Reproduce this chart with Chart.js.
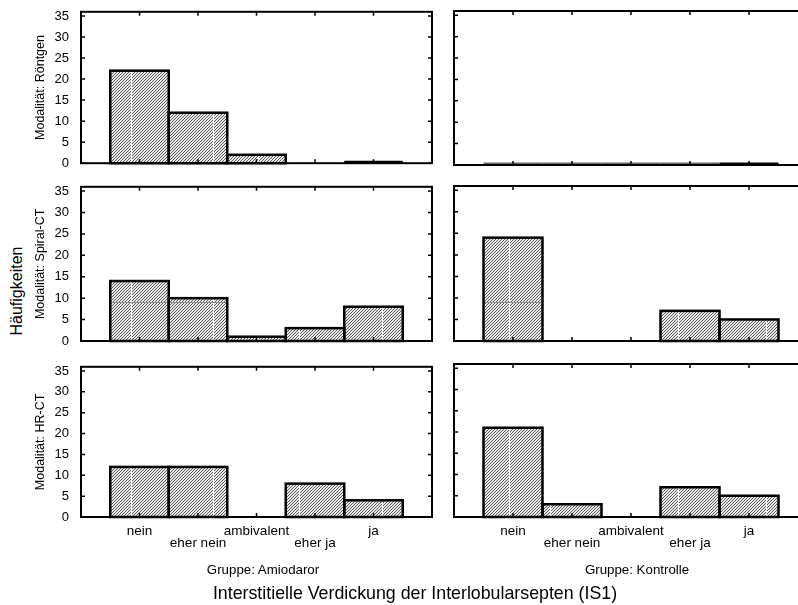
<!DOCTYPE html>
<html>
<head>
<meta charset="utf-8">
<script src="https://cdn.jsdelivr.net/npm/chart.js@4.4.0/dist/chart.umd.min.js"></script>
<style>
  html, body { margin: 0; padding: 0; background: #fff; }
  body { position: relative; width: 798px; height: 605px; overflow: hidden;
         font-family: "Liberation Sans", Arial, sans-serif; color: #000; }
  canvas { position: absolute; }
  .label { position: absolute; white-space: nowrap; transform: translateX(-50%); }
  #yTitle { left: 17px; top: 291px; font-size: 16px; transform: translate(-50%, -50%) rotate(-90deg); }
  #xTitle { top: 583px; left: 415px; font-size: 17.8px; line-height: 20px; }
  .group { top: 562px; font-size: 13.3px; line-height: 16px; }
</style>
</head>
<body>
<canvas id="r1a"></canvas><canvas id="r1k"></canvas>
<canvas id="r2a"></canvas><canvas id="r2k"></canvas>
<canvas id="r3a"></canvas><canvas id="r3k"></canvas>
<div class="label" id="yTitle">Häufigkeiten</div>
<div class="label group" id="g0" style="left:263px"></div>
<div class="label group" id="g1" style="left:637px"></div>
<div class="label" id="xTitle">Interstitielle Verdickung der Interlobularsepten (IS1)</div>
<script>
// answer categories on the x axis
const categories = ['nein', 'eher nein', 'ambivalent', 'eher ja', 'ja'];
const modalities = ['Modalität: Röntgen', 'Modalität: Spiral-CT', 'Modalität: HR-CT'];
const groups = ['Gruppe: Amiodaror', 'Gruppe: Kontrolle'];

// counts per category
const roentgenAmiodaron = [22, 12, 2, 0, 0];
const roentgenKontrolle = [0, 0, 0, 0, 0];
const spiralAmiodaron = [14, 10, 1, 3, 8];
const spiralKontrolle = [24, 0, 0, 7, 5];
const hrctAmiodaron = [12, 12, 0, 8, 4];
const hrctKontrolle = [21, 3, 0, 7, 5];

const yMax = 36;
const yStep = 5;

Chart.defaults.font.family = '"Liberation Sans", Arial, sans-serif';
Chart.defaults.color = '#000';

groups.forEach((g, i) => { document.getElementById('g' + i).textContent = g; });

function hatch(ctx) {
  const c = document.createElement('canvas');
  c.width = c.height = 3;
  const g = c.getContext('2d');
  g.fillStyle = '#e9e9e9';
  g.fillRect(0, 0, 3, 3);
  g.fillStyle = '#5c5c5c';
  for (let i = 0; i < 3; i++) g.fillRect(i, 2 - i, 1, 1);
  return ctx.createPattern(c, 'repeat');
}

// frame, inward ticks, bar outlines and the light streaks in the fill
const framePlugin = {
  id: 'frame',
  afterDatasetsDraw(chart, args, opts) {
    const { ctx, chartArea: a, scales: { x, y } } = chart;
    const bars = chart.getDatasetMeta(0).data;
    const values = chart.data.datasets[0].data;
    ctx.save();

    bars.forEach((bar, i) => {
      if (values[i].y <= 0) return;
      const left = bar.x - bar.width / 2;
      ctx.save();
      ctx.beginPath();
      ctx.rect(left, bar.y, bar.width, bar.base - bar.y);
      ctx.clip();
      ctx.lineWidth = 1;
      ctx.strokeStyle = '#fff';
      (opts.seams || []).forEach(s => {
        const px = Math.round(x.getPixelForValue(s)) + 0.5;
        ctx.beginPath(); ctx.moveTo(px, bar.y); ctx.lineTo(px, bar.base); ctx.stroke();
      });
      if (opts.band != null) {
        const py = Math.round(y.getPixelForValue(opts.band)) + 0.5;
        ctx.strokeStyle = '#8c8c8c';
        ctx.beginPath(); ctx.moveTo(left, py); ctx.lineTo(left + bar.width, py); ctx.stroke();
      }
      ctx.restore();
    });

    ctx.strokeStyle = '#000';
    ctx.lineWidth = 2.5;
    bars.forEach((bar, i) => {
      const left = bar.x - bar.width / 2;
      if (values[i].y > 0) {
        ctx.strokeRect(left, bar.y, bar.width, bar.base - bar.y);
      } else if (opts.zeroColors && opts.zeroColors[i]) {
        ctx.save();
        ctx.strokeStyle = opts.zeroColors[i];
        ctx.lineWidth = 3;
        ctx.beginPath(); ctx.moveTo(left, bar.base - 1); ctx.lineTo(left + bar.width, bar.base - 1); ctx.stroke();
        ctx.restore();
      }
    });

    ctx.lineWidth = 2;
    ctx.strokeStyle = '#000';
    ctx.strokeRect(a.left, a.top, a.width, a.height);

    ctx.lineWidth = 1.5;
    ctx.beginPath();
    y.ticks.forEach(t => {
      const py = y.getPixelForValue(t.value);
      ctx.moveTo(a.left, py); ctx.lineTo(a.left + 4, py);
      ctx.moveTo(a.right - 4, py); ctx.lineTo(a.right, py);
    });
    categories.forEach((c, i) => {
      const px = x.getPixelForValue(i + 1);
      ctx.moveTo(px, a.top); ctx.lineTo(px, a.top + 4);
      ctx.moveTo(px, a.bottom - 4); ctx.lineTo(px, a.bottom);
    });
    ctx.stroke();
    ctx.restore();
  }
};

// page geometry of each column / row
const columns = [
  { left: 30, width: 410, axisWidth: 51, padRight: 8, seams: [0.85, 2.25, 3.03, 3.73, 5.14] },
  { left: 440, width: 380, axisWidth: 14, padRight: 12, seams: [0.93, 1.63, 3.8, 5.28] }
];
const rows = [
  { top: 0, height: 175, padTop: 11, padBottom: 10, axisHeight: 0 },
  { top: 175, height: 180, padTop: 11, padBottom: 14, axisHeight: 0, band: 9 },
  { top: 355, height: 250, padTop: 9, padBottom: 48, axisHeight: 40 }
];

function panel(id, values, row, col, extra) {
  const r = rows[row], c = columns[col];
  const canvas = document.getElementById(id);
  canvas.width = c.width; canvas.height = r.height;
  canvas.style.left = c.left + 'px'; canvas.style.top = r.top + 'px';
  const ctx = canvas.getContext('2d');
  const lastRow = row === rows.length - 1;
  const firstCol = col === 0;

  return new Chart(ctx, {
    type: 'bar',
    data: {
      datasets: [{
        data: values.map((v, i) => ({ x: i + 1, y: v })),
        backgroundColor: hatch(ctx),
        borderWidth: 0,
        barPercentage: 1,
        categoryPercentage: 1
      }]
    },
    options: {
      responsive: false,
      animation: false,
      events: [],
      layout: { padding: { top: r.padTop, bottom: r.padBottom, left: 0, right: c.padRight } },
      plugins: {
        legend: { display: false },
        tooltip: { enabled: false },
        frame: Object.assign({ seams: c.seams, band: r.band }, extra)
      },
      scales: {
        x: {
          type: 'linear', min: 0, max: categories.length + 1, offset: false,
          grid: { display: false, offset: false }, border: { display: false },
          ticks: {
            display: lastRow, stepSize: 1, autoSkip: false, maxRotation: 0, padding: 1,
            font: { size: 13.5, lineHeight: 0.85 },
            callback: v => {
              const name = categories[v - 1];
              if (!name) return '';
              return v % 2 === 0 ? ['', name] : name;
            }
          },
          afterFit: s => { s.height = r.axisHeight; }
        },
        y: {
          min: 0, max: yMax,
          grid: { display: false }, border: { display: false },
          ticks: { display: firstCol, stepSize: yStep, includeBounds: false, padding: 4, font: { size: 13 } },
          title: {
            display: firstCol, text: modalities[row],
            font: { size: 12.5 }, padding: { top: 3, bottom: 0 }
          },
          afterFit: s => { s.width = c.axisWidth; }
        }
      }
    },
    plugins: [framePlugin]
  });
}

panel('r1a', roentgenAmiodaron, 0, 0, { zeroColors: [null, null, null, null, '#000'] });
panel('r1k', roentgenKontrolle, 0, 1, { zeroColors: ['#6a6a6a', '#6a6a6a', '#6a6a6a', '#6a6a6a', '#000'] });
panel('r2a', spiralAmiodaron, 1, 0);
panel('r2k', spiralKontrolle, 1, 1);
panel('r3a', hrctAmiodaron, 2, 0);
panel('r3k', hrctKontrolle, 2, 1);
</script>
</body>
</html>
